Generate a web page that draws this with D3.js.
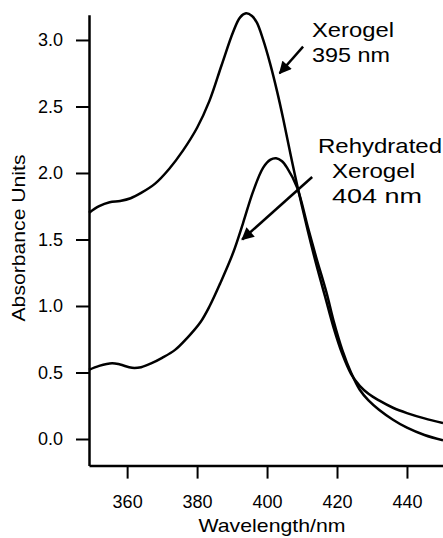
<!DOCTYPE html>
<html>
<head>
<meta charset="utf-8">
<script src="https://cdn.jsdelivr.net/npm/d3@7"></script>
<style>
  body { margin: 0; background: #fff; }
  svg text { font-family: "Liberation Sans", Arial, Helvetica, sans-serif; fill: #000; }
</style>
</head>
<body>
<div id="chart"></div>
<script>
// wavelength (nm) / absorbance
var xerogelNm = [349.1, 352, 355, 358, 361, 364, 368, 372, 376, 380, 383.5, 387, 390.3, 392.3, 394,
    395.7, 397.1, 398.9, 400.9, 402.9, 404.6, 406.4, 408.6, 411.7, 414, 416.6, 419, 421.5, 424,
    426.5, 429, 432, 436, 440, 445, 450.3];
var xerogelAbs = [1.70, 1.75, 1.78, 1.79, 1.81, 1.85, 1.92, 2.03, 2.17, 2.34, 2.54, 2.81, 3.06, 3.17, 3.20,
    3.18, 3.13, 3.00, 2.82, 2.61, 2.41, 2.18, 1.91, 1.56, 1.32, 1.07, 0.84, 0.64, 0.49,
    0.40, 0.34, 0.29, 0.235, 0.195, 0.155, 0.12];

var rehydNm = [349.1, 352, 355.7, 358, 361.4, 364, 367, 370, 373.7, 377, 381, 383.6, 386.6, 390.3, 393.1,
    396, 398.9, 401, 402.6, 404.2, 405.7, 408.6, 411.7, 414, 417, 419, 421.5, 424,
    426.5, 429, 432, 436, 440, 445, 450.3];
var rehydAbs = [0.52, 0.55, 0.57, 0.56, 0.535, 0.54, 0.57, 0.61, 0.67, 0.755, 0.88, 1.00, 1.17, 1.40, 1.62,
    1.86, 2.04, 2.10, 2.11, 2.09, 2.04, 1.89, 1.59, 1.37, 1.10, 0.89, 0.67, 0.50,
    0.37, 0.29, 0.22, 0.145, 0.085, 0.03, -0.01];

var xTicks = [360, 380, 400, 420, 440];
var yTicks = [0, 0.5, 1.0, 1.5, 2.0, 2.5, 3.0];

// annotation text lines
var xeroLabel = ["Xerogel", "395 nm"];
var rehydLabel = ["Rehydrated", "Xerogel", "404 nm"];

var width = 443, height = 538;

var x = d3.scaleLinear().domain([349.1, 450.3]).range([89, 443]);
var y = d3.scaleLinear().domain([-0.2, 3.19]).range([465.6, 14.7]);

var svg = d3.select("#chart").append("svg")
    .attr("width", width)
    .attr("height", height);

// axes
var xAxis = svg.append("g")
    .attr("transform", "translate(0," + y(-0.2) + ")")
    .call(d3.axisBottom(x).tickValues(xTicks).tickSize(13).tickSizeOuter(0).tickPadding(17).tickFormat(d3.format("d")));
var yAxis = svg.append("g")
    .attr("transform", "translate(" + x(349.1) + ",0)")
    .call(d3.axisLeft(y).tickValues(yTicks).tickSize(13).tickSizeOuter(0).tickPadding(13).tickFormat(d3.format(".1f")));

[xAxis, yAxis].forEach(function(g) {
    g.select(".domain").attr("stroke", "#000").attr("stroke-width", 2.5);
    g.selectAll(".tick line").attr("stroke", "#000").attr("stroke-width", 2);
    g.selectAll(".tick text").attr("font-size", 18).attr("font-family", null);
});

// curves
var line = d3.line()
    .x(function(d) { return x(d[0]); })
    .y(function(d) { return y(d[1]); })
    .curve(d3.curveCatmullRom.alpha(0.5));

var xerogel = xerogelNm.map(function(v, i) { return [v, xerogelAbs[i]]; });
var rehyd = rehydNm.map(function(v, i) { return [v, rehydAbs[i]]; });

svg.append("g").selectAll("path")
    .data([xerogel, rehyd])
    .enter().append("path")
    .attr("d", line)
    .attr("fill", "none")
    .attr("stroke", "#000")
    .attr("stroke-width", 2.5)
    .attr("stroke-linejoin", "round");

// arrows
svg.append("defs").append("marker")
    .attr("id", "head")
    .attr("viewBox", "0 0 10 10")
    .attr("refX", 9).attr("refY", 5)
    .attr("markerWidth", 5.5).attr("markerHeight", 5)
    .attr("markerUnits", "strokeWidth")
    .attr("orient", "auto")
    .append("path")
    .attr("d", "M0,0L10,5L0,10z")
    .attr("fill", "#000");

var arrows = [
    {from: [410.3, 2.95], to: [403.6, 2.75]},
    {from: [412.9, 1.97], to: [392.9, 1.50]}
];
svg.append("g").selectAll("line")
    .data(arrows)
    .enter().append("line")
    .attr("x1", function(d) { return x(d.from[0]); })
    .attr("y1", function(d) { return y(d.from[1]); })
    .attr("x2", function(d) { return x(d.to[0]); })
    .attr("y2", function(d) { return y(d.to[1]); })
    .attr("stroke", "#000")
    .attr("stroke-width", 2.5)
    .attr("marker-end", "url(#head)");

// labels
var xeroWidths = [82, 78];
svg.append("g").selectAll("text")
    .data(xeroLabel)
    .enter().append("text")
    .attr("x", 312)
    .attr("y", function(d, i) { return 37 + i * 25; })
    .attr("font-size", 21)
    .attr("textLength", function(d, i) { return xeroWidths[i]; })
    .attr("lengthAdjust", "spacingAndGlyphs")
    .text(function(d) { return d; });

var rehydX = [318, 332, 332], rehydWidths = [124, 83, 90];
svg.append("g").selectAll("text")
    .data(rehydLabel)
    .enter().append("text")
    .attr("x", function(d, i) { return rehydX[i]; })
    .attr("y", function(d, i) { return 153 + i * 25; })
    .attr("font-size", 21)
    .attr("textLength", function(d, i) { return rehydWidths[i]; })
    .attr("lengthAdjust", "spacingAndGlyphs")
    .text(function(d) { return d; });

svg.append("text")
    .attr("x", 272).attr("y", 532)
    .attr("text-anchor", "middle")
    .attr("font-size", 19)
    .attr("textLength", 147)
    .attr("lengthAdjust", "spacingAndGlyphs")
    .text("Wavelength/nm");

svg.append("text")
    .attr("transform", "translate(25,238) rotate(-90)")
    .attr("text-anchor", "middle")
    .attr("font-size", 19)
    .attr("textLength", 167)
    .attr("lengthAdjust", "spacingAndGlyphs")
    .text("Absorbance Units");
</script>
</body>
</html>
